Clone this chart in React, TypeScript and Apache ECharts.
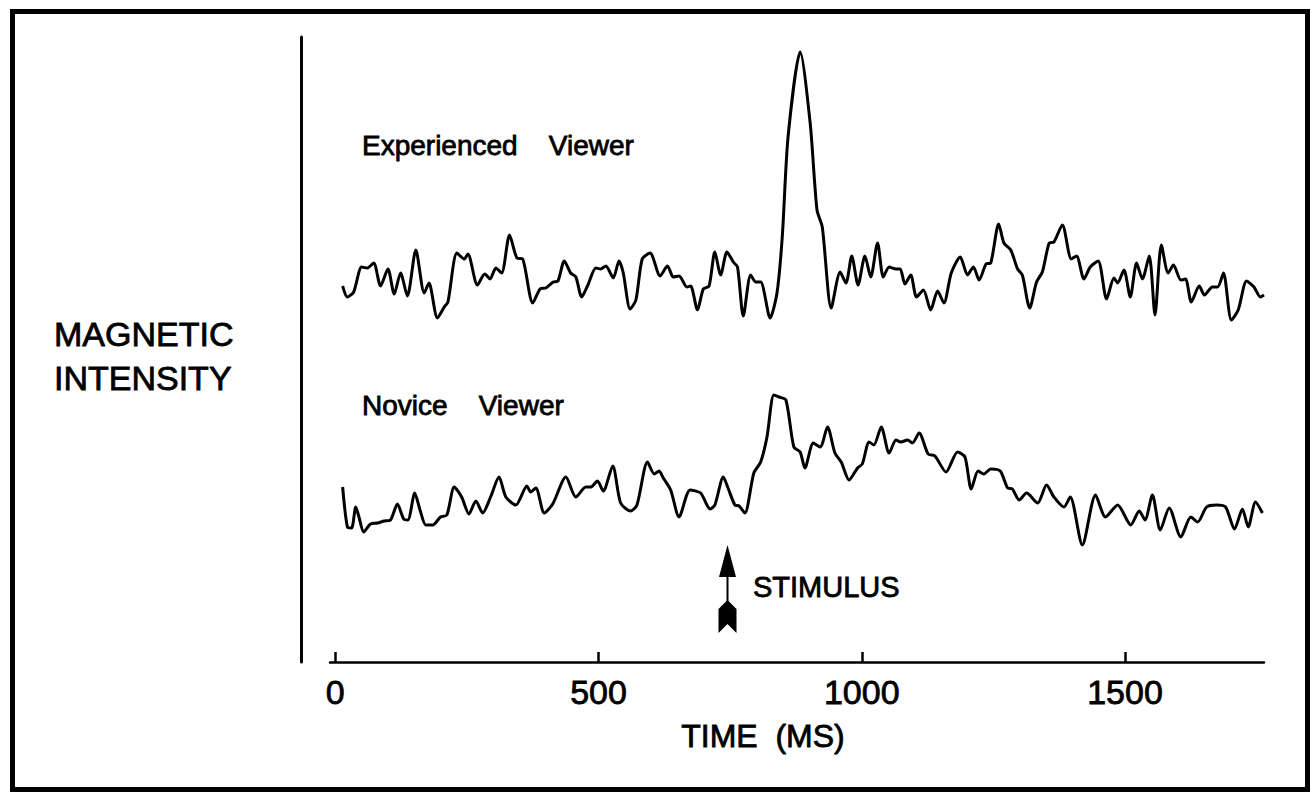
import React, { useEffect, useRef } from "react";
import * as echarts from "echarts";

// ---- Data (time in ms, intensity in arbitrary units) ----
const X_TICKS = [0, 500, 1000, 1500];
const STIMULUS_MS = 745;

const expTime = [
  14, 23, 35, 50, 61, 73, 86, 100, 112, 124, 137, 153, 169, 178, 194, 207, 214, 231, 245, 252,
  270, 284, 294, 305, 316, 331, 345, 356, 375, 389, 400, 414, 423, 435, 447, 457, 468, 479, 495, 504,
  514, 528, 539, 547, 560, 571, 583, 598, 617, 631, 642, 653, 668, 675, 688, 699, 710, 721, 732, 744,
  756, 764, 775, 789, 799, 808, 826, 839, 849, 860, 883, 902, 915, 925, 942, 959, 970, 981, 993, 1006,
  1017, 1030, 1041, 1052, 1065, 1073, 1082, 1093, 1104, 1117, 1131, 1144, 1156, 1170, 1187, 1201, 1212, 1223, 1236, 1245,
  1260, 1270, 1283, 1296, 1305, 1319, 1332, 1343, 1356, 1365, 1381, 1398, 1408, 1422, 1434, 1449, 1465, 1479, 1486, 1498,
  1510, 1522, 1533, 1546, 1557, 1569, 1582, 1592, 1606, 1615, 1626, 1641, 1651, 1666, 1676, 1687, 1702, 1715, 1731, 1745,
  1757, 1764,
];
const expValue = [
  37.6, 36.5, 37.0, 39.5, 39.4, 39.9, 37.6, 39.3, 36.8, 38.9, 36.6, 41.2, 36.9, 37.9, 34.4, 35.5, 36.0, 40.9, 40.3, 40.8,
  37.7, 38.8, 38.3, 39.4, 38.9, 42.7, 40.4, 40.3, 35.9, 37.3, 37.4, 38.0, 38.1, 40.1, 38.9, 38.5, 36.5, 37.6, 39.4, 39.3,
  39.6, 38.4, 40.1, 38.9, 35.3, 36.2, 40.3, 40.9, 38.6, 39.6, 38.5, 38.6, 37.5, 37.6, 35.2, 37.3, 37.6, 41.0, 38.7, 41.0,
  40.0, 39.5, 34.6, 38.7, 38.0, 38.0, 34.4, 36.9, 42.5, 52.5, 61.0, 53.9, 45.2, 43.5, 35.4, 39.0, 37.9, 40.6, 37.7, 40.6,
  38.5, 41.9, 38.5, 39.5, 39.3, 39.3, 37.8, 38.7, 36.5, 37.2, 35.2, 37.1, 35.9, 38.9, 40.5, 38.7, 39.5, 38.2, 39.8, 39.9,
  43.8, 41.9, 41.2, 39.3, 38.7, 35.4, 38.0, 39.0, 41.9, 42.0, 43.7, 40.3, 40.6, 38.3, 39.5, 40.1, 36.3, 38.4, 37.9, 39.2,
  36.5, 39.9, 38.3, 40.6, 34.7, 41.7, 38.9, 39.7, 38.2, 38.3, 36.0, 37.6, 36.7, 37.5, 37.5, 38.9, 34.2, 35.2, 38.1, 37.5,
  36.5, 36.7,
];

const novTime = [
  14, 23, 31, 39, 45, 54, 67, 80, 93, 105, 118, 130, 138, 151, 161, 172, 185, 200, 212, 226,
  240, 254, 267, 280, 295, 311, 324, 343, 364, 371, 381, 397, 413, 438, 457, 476, 485, 498, 509, 527,
  542, 561, 573, 593, 606, 615, 623, 637, 653, 674, 694, 712, 721, 737, 746, 759, 767, 778, 795, 808,
  820, 833, 843, 856, 871, 883, 892, 908, 921, 935, 949, 961, 976, 992, 1001, 1014, 1023, 1037, 1052, 1065,
  1074, 1087, 1096, 1109, 1126, 1139, 1160, 1182, 1196, 1208, 1221, 1232, 1245, 1263, 1277, 1286, 1299, 1313, 1334, 1351,
  1365, 1384, 1396, 1419, 1444, 1463, 1486, 1511, 1527, 1538, 1552, 1567, 1584, 1606, 1625, 1638, 1655, 1674, 1691, 1708,
  1723, 1734, 1748, 1761,
];
const novValue = [
  17.5, 13.5, 13.4, 15.5, 14.5, 13.0, 13.8, 13.9, 14.1, 14.2, 15.8, 14.3, 14.2, 16.9, 15.2, 13.7, 13.7, 14.5, 14.7, 17.5,
  16.5, 14.8, 16.1, 14.9, 16.5, 18.5, 16.5, 15.7, 17.6, 17.0, 17.4, 14.9, 15.8, 18.5, 16.5, 17.5, 17.5, 18.1, 17.1, 19.6,
  15.9, 15.1, 15.7, 20.0, 18.8, 19.1, 18.4, 17.2, 14.5, 17.2, 16.9, 15.3, 15.7, 18.5, 17.4, 15.7, 15.6, 14.9, 18.9, 20.0,
  22.5, 26.7, 26.5, 26.2, 21.5, 21.0, 19.4, 21.9, 21.5, 23.5, 20.9, 20.0, 18.2, 19.4, 19.8, 22.0, 21.7, 23.5, 20.9, 22.2,
  22.0, 22.2, 21.9, 22.9, 20.8, 20.6, 19.0, 21.0, 20.5, 17.3, 19.1, 18.8, 19.3, 19.1, 17.4, 17.3, 16.2, 16.9, 15.9, 17.7,
  16.5, 15.5, 16.5, 11.7, 16.7, 14.5, 15.7, 13.7, 15.1, 14.2, 16.7, 13.2, 15.4, 12.5, 14.5, 14.0, 15.5, 15.7, 15.5, 13.3,
  15.3, 13.5, 16.0, 14.9,
];

const FONT = "'Liberation Sans', Arial, Helvetica, sans-serif";

export default function App() {
  const ref = useRef<HTMLDivElement>(null);

  useEffect(() => {
    if (!ref.current) return;
    const chart = echarts.init(ref.current, null, { renderer: "svg" });

    const lineStyle = { color: "#000", width: 3 };

    chart.setOption({
      animation: false,
      backgroundColor: "#fff",
      grid: { left: 330, right: 47, top: 37, bottom: 130, containLabel: false },
      xAxis: {
        type: "value",
        min: -10,
        max: 1764,
        axisLine: { show: true, onZero: false, lineStyle: { color: "#000", width: 2.5 } },
        axisTick: {
          show: true,
          inside: true,
          length: 10,
          customValues: X_TICKS,
          lineStyle: { color: "#000", width: 2.5 },
        },
        axisLabel: {
          customValues: X_TICKS,
          formatter: (v: number) => String(v),
          color: "#000",
          fontSize: 34,
          fontFamily: FONT,
          textBorderColor: "#000",
          textBorderWidth: 0.8,
          margin: 13,
        },
        splitLine: { show: false },
      },
      yAxis: {
        type: "value",
        min: 0,
        max: 62.5,
        offset: 29,
        axisLine: { show: true, onZero: false, lineStyle: { color: "#000", width: 3 } },
        axisTick: { show: false },
        axisLabel: { show: false },
        splitLine: { show: false },
      },
      series: [
        {
          name: "Experienced Viewer",
          type: "line",
          showSymbol: false,
          smooth: 0.25,
          lineStyle,
          data: expTime.map((t, i) => [t, expValue[i]]),
        },
        {
          name: "Novice Viewer",
          type: "line",
          showSymbol: false,
          smooth: 0.25,
          lineStyle,
          data: novTime.map((t, i) => [t, novValue[i]]),
        },
      ],
    });

    const ax = chart.convertToPixel({ xAxisIndex: 0 }, STIMULUS_MS) as number;

    const txt = (text: string, x: number, y: number, size: number, align = "left") => ({
      type: "text",
      x,
      y,
      style: {
        text,
        fill: "#000",
        stroke: "#000",
        lineWidth: 0.8,
        fontSize: size,
        fontFamily: FONT,
        align,
        verticalAlign: "middle",
      },
    });

    chart.setOption({
      graphic: {
        elements: [
          {
            type: "rect",
            shape: { x: 12.5, y: 11.5, width: 1295, height: 778 },
            style: { fill: "none", stroke: "#000", lineWidth: 5 },
          },
          txt("Experienced    Viewer", 362, 145, 28),
          txt("Novice    Viewer", 362, 405, 28),
          txt("MAGNETIC", 54, 334, 34),
          txt("INTENSITY", 54, 378, 34),
          txt("STIMULUS", 753, 587, 29),
          txt("TIME  (MS)", 763, 736, 32, "center"),
          {
            type: "polygon",
            shape: { points: [[ax, 545], [ax - 8.5, 577], [ax + 8.5, 577]] },
            style: { fill: "#000" },
          },
          {
            type: "line",
            shape: { x1: ax, y1: 570, x2: ax, y2: 606 },
            style: { stroke: "#000", lineWidth: 2 },
          },
          {
            type: "polygon",
            shape: {
              points: [
                [ax, 600],
                [ax + 9, 609],
                [ax + 9, 633],
                [ax, 624],
                [ax - 9, 633],
                [ax - 9, 609],
              ],
            },
            style: { fill: "#000" },
          },
        ],
      },
    });

    return () => chart.dispose();
  }, []);

  return (
    <div
      ref={ref}
      style={{ position: "fixed", left: 0, top: 0, width: 1311, height: 792, background: "#fff" }}
    />
  );
}
